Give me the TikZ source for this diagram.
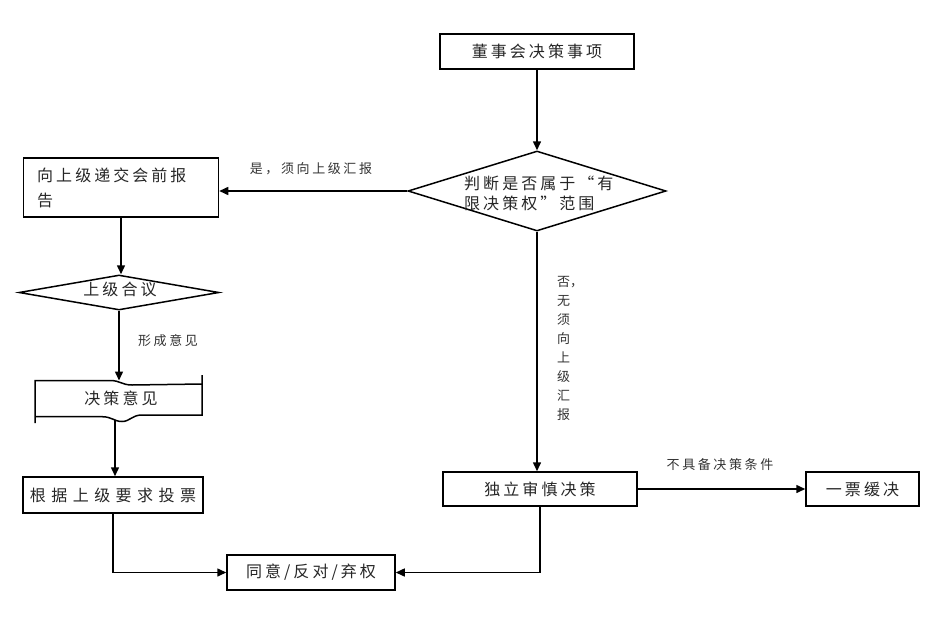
\documentclass[tikz,border=0pt]{standalone}
\usepackage{fontspec}
\newfontfamily\cjk{Noto Sans CJK SC}[LetterSpace=19]
\newfontfamily\cjkw{Noto Sans CJK SC}[LetterSpace=34]
\newfontfamily\cjks{Noto Sans CJK SC}[LetterSpace=20]
\newfontfamily\cjkv{Noto Sans CJK SC}
\usetikzlibrary{shapes.geometric,arrows.meta}
\tikzset{
  boxsty/.style={draw, rectangle, line width=1.5pt, inner sep=0pt, text=black!85,
     font=\cjk\fontsize{16}{20}\selectfont},
  dia/.style={draw, diamond, line width=1.5pt, inner sep=0pt},
  btext/.style={inner sep=0pt, text=black!85, font=\cjk\fontsize{16}{20}\selectfont},
  lbl/.style={inner sep=0pt, text=black!80, font=\cjks\fontsize{13}{15}\selectfont},
  arr/.style={line width=1.5pt, -{Triangle[length=9pt,width=8pt]}},
  ln/.style={line width=1.5pt}
}
\begin{document}
\begin{tikzpicture}[x=1pt,y=-1pt]
\useasboundingbox[fill=white] (0,0) rectangle (942,626);

% right column
\node[boxsty, minimum width=194, minimum height=35] (top) at (537,51.5) {董事会决策事项};
\node[dia, minimum width=258, minimum height=80] (dec) at (537,191) {};
\node[btext, anchor=west, align=left, font=\cjk\fontsize{16}{20}\selectfont] (dect) at (464,193) {判断是否属于“有\\限决策权”范围};
\node[boxsty, minimum width=194, minimum height=34] (ind) at (540,489) {独立审慎决策};
\node[boxsty, minimum width=113, minimum height=34] (one) at (862.5,489) {一票缓决};

% left column
\node[boxsty, minimum width=195, minimum height=59] (rep) at (121,187.5) {};
\node[btext, anchor=west, align=left, font=\cjk\fontsize{16}{25}\selectfont] (rept) at (37,187.5) {向上级递交会前报\\告};
\node[dia, minimum width=200, minimum height=35] (hy) at (119,292.5) {};
\node[btext] (hyt) at (120,289.5) {上级合议};

% document shape
\draw[ln] (35,423) -- (35,380.5) -- (110,380.5)
   .. controls (120,380.5) and (122,385) .. (132,385) -- (202,384);
\draw[ln] (202,375) -- (202,415) -- (142,415)
   .. controls (132,415) and (130,421.5) .. (122,421.5)
   .. controls (114,421.5) and (112,416.7) .. (102,416.7) -- (35,416.7);
\node[btext] (doc) at (121,398.5) {决策意见};
\coordinate (dtop) at (119,380.5);
\coordinate (dbot) at (115,420);

\node[boxsty, minimum width=180, minimum height=36, font=\cjkw\fontsize{16}{20}\selectfont] (vote) at (113,495) {根据上级要求投票};
\node[boxsty, minimum width=168, minimum height=35] (agree) at (311,572.5) {同意/反对/弃权};

% labels
\node[lbl] (l1) at (311,169) {是，须向上级汇报};
\node[lbl] (l2) at (168,341) {形成意见};
\node[lbl] (l3) at (720,465) {不具备决策条件};
\node[inner sep=0pt, text=black!80, anchor=north west, align=left,
      font=\cjkv\fontsize{13}{19}\selectfont] (l4) at (557,276) {否，\\无\\须\\向\\上\\级\\汇\\报};

% connectors
\draw[arr] (top.south) -- (dec.north);
\draw[arr] (dec.west) -- (rep.east |- dec.west);
\draw[arr] (dec.south) -- (dec.south |- ind.north);
\draw[arr] (ind.east) -- (one.west);
\draw[arr] (ind.south) |- (agree.east);
\draw[arr] (rep.south) -- (rep.south |- hy.north);
\draw[arr] (hy.south) -- (hy.south |- dtop);
\draw[arr] (dbot) -- (dbot |- vote.north);
\draw[arr] (vote.south) |- (agree.west);
\end{tikzpicture}
\end{document}
